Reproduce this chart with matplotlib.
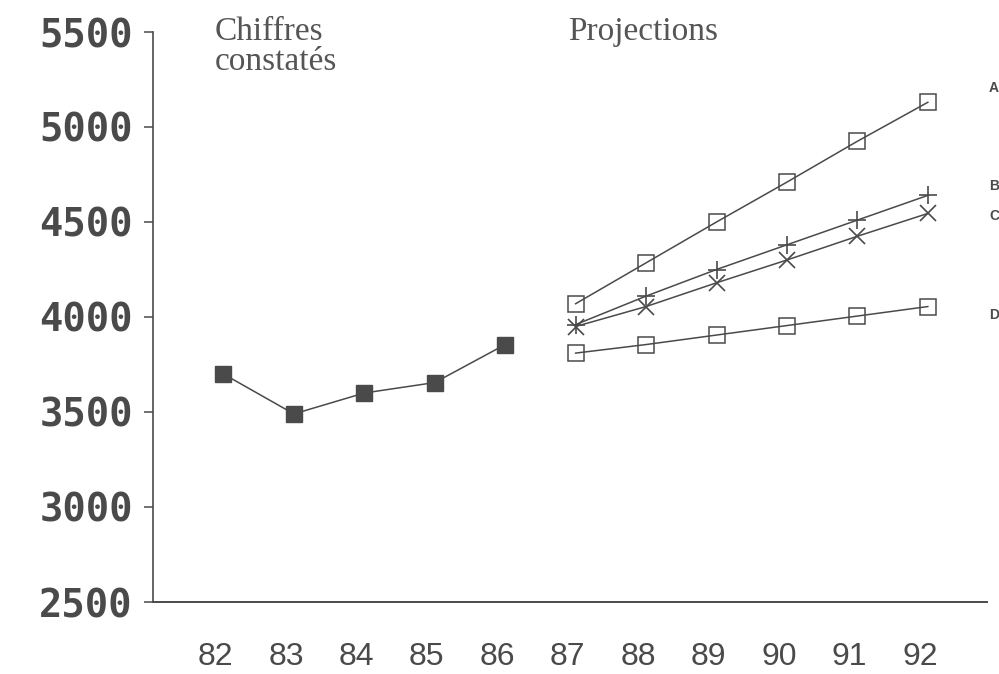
import matplotlib
matplotlib.use("Agg")
import matplotlib.pyplot as plt
from matplotlib.transforms import ScaledTranslation

# ---- data ----
years_obs = [82, 83, 84, 85, 86]
values_obs = [3700, 3490, 3600, 3655, 3855]
years_proj = [87, 88, 89, 90, 91, 92]
proj_A = [4070, 4285, 4500, 4710, 4925, 5130]
proj_B = [3960, 4110, 4250, 4380, 4510, 4640]
proj_C = [3950, 4055, 4180, 4300, 4425, 4545]
proj_D = [3810, 3855, 3905, 3955, 4005, 4055]
xtick_years = [82, 83, 84, 85, 86, 87, 88, 89, 90, 91, 92]
ytick_values = [2500, 3000, 3500, 4000, 4500, 5000, 5500]
series_labels = ["A", "B", "C", "D"]

INK = "#4a4a4a"
TXT = "#555555"

fig = plt.figure(figsize=(9.99, 6.74), dpi=100)
ax = fig.add_axes([153/999, 1-602/674, (987-153)/999, (602-32)/674])

ax.plot(years_obs, values_obs, color=INK, lw=1.1, marker='s', ms=11,
        mfc=INK, mec=INK)
ax.plot(years_proj, proj_A, color=INK, lw=1.1, marker='s', ms=11,
        mfc='none', mec=INK, mew=1.1)
ax.plot(years_proj, proj_B, color=INK, lw=1.1, marker='+', ms=13, mew=1.2)
ax.plot(years_proj, proj_C, color=INK, lw=1.1, marker='x', ms=11, mew=1.2)
ax.plot(years_proj, proj_D, color=INK, lw=1.1, marker='s', ms=11,
        mfc='none', mec=INK, mew=1.1)

ax.set_xlim(81.0, 92.84)
ax.set_ylim(2500, 5500)

for s in ["top", "right"]:
    ax.spines[s].set_visible(False)
ax.spines["left"].set_color(INK)
ax.spines["bottom"].set_color(INK)
ax.spines["left"].set_linewidth(1.2)
ax.spines["bottom"].set_linewidth(1.4)

ax.set_yticks(ytick_values)
ax.set_yticklabels([str(v) for v in ytick_values],
                   fontfamily="DejaVu Sans Mono", fontweight="bold",
                   fontsize=28, color=INK)
ax.tick_params(axis='y', direction='out', length=6.5, width=1.1,
               color=INK, pad=8)

ax.set_xticks(xtick_years)
ax.set_xticklabels([str(v) for v in xtick_years],
                   fontfamily=["Liberation Sans", "DejaVu Sans"],
                   fontsize=23, color=INK)
ax.tick_params(axis='x', length=0, pad=29)
off = ScaledTranslation(-8/100, 0, fig.dpi_scale_trans)
for lab in ax.get_xticklabels():
    lab.set_transform(lab.get_transform() + off)

serif = ["Liberation Serif", "DejaVu Serif"]
ax.text(81.88, 5458, "Chiffres", fontfamily=serif, fontsize=24,
        color=TXT, va='baseline', ha='left')
ax.text(81.88, 5300, "constatés", fontfamily=serif, fontsize=24,
        color=TXT, va='baseline', ha='left')
ax.text(86.89, 5458, "Projections", fontfamily=serif, fontsize=24,
        color=TXT, va='baseline', ha='left')

last_vals = [proj_A[-1], proj_B[-1], proj_C[-1], proj_D[-1]]
dys = [10, 7, -2, -6]
for lab, v, dy in zip(series_labels, last_vals, dys):
    ax.annotate(lab, xy=(1.0, v), xycoords=('axes fraction', 'data'),
                xytext=(1.5, dy), textcoords='offset points',
                fontfamily=["Liberation Sans", "DejaVu Sans"],
                fontweight='bold', fontsize=10, color=INK,
                va='center', ha='left', annotation_clip=False)

fig.savefig("out.png", dpi=100)
